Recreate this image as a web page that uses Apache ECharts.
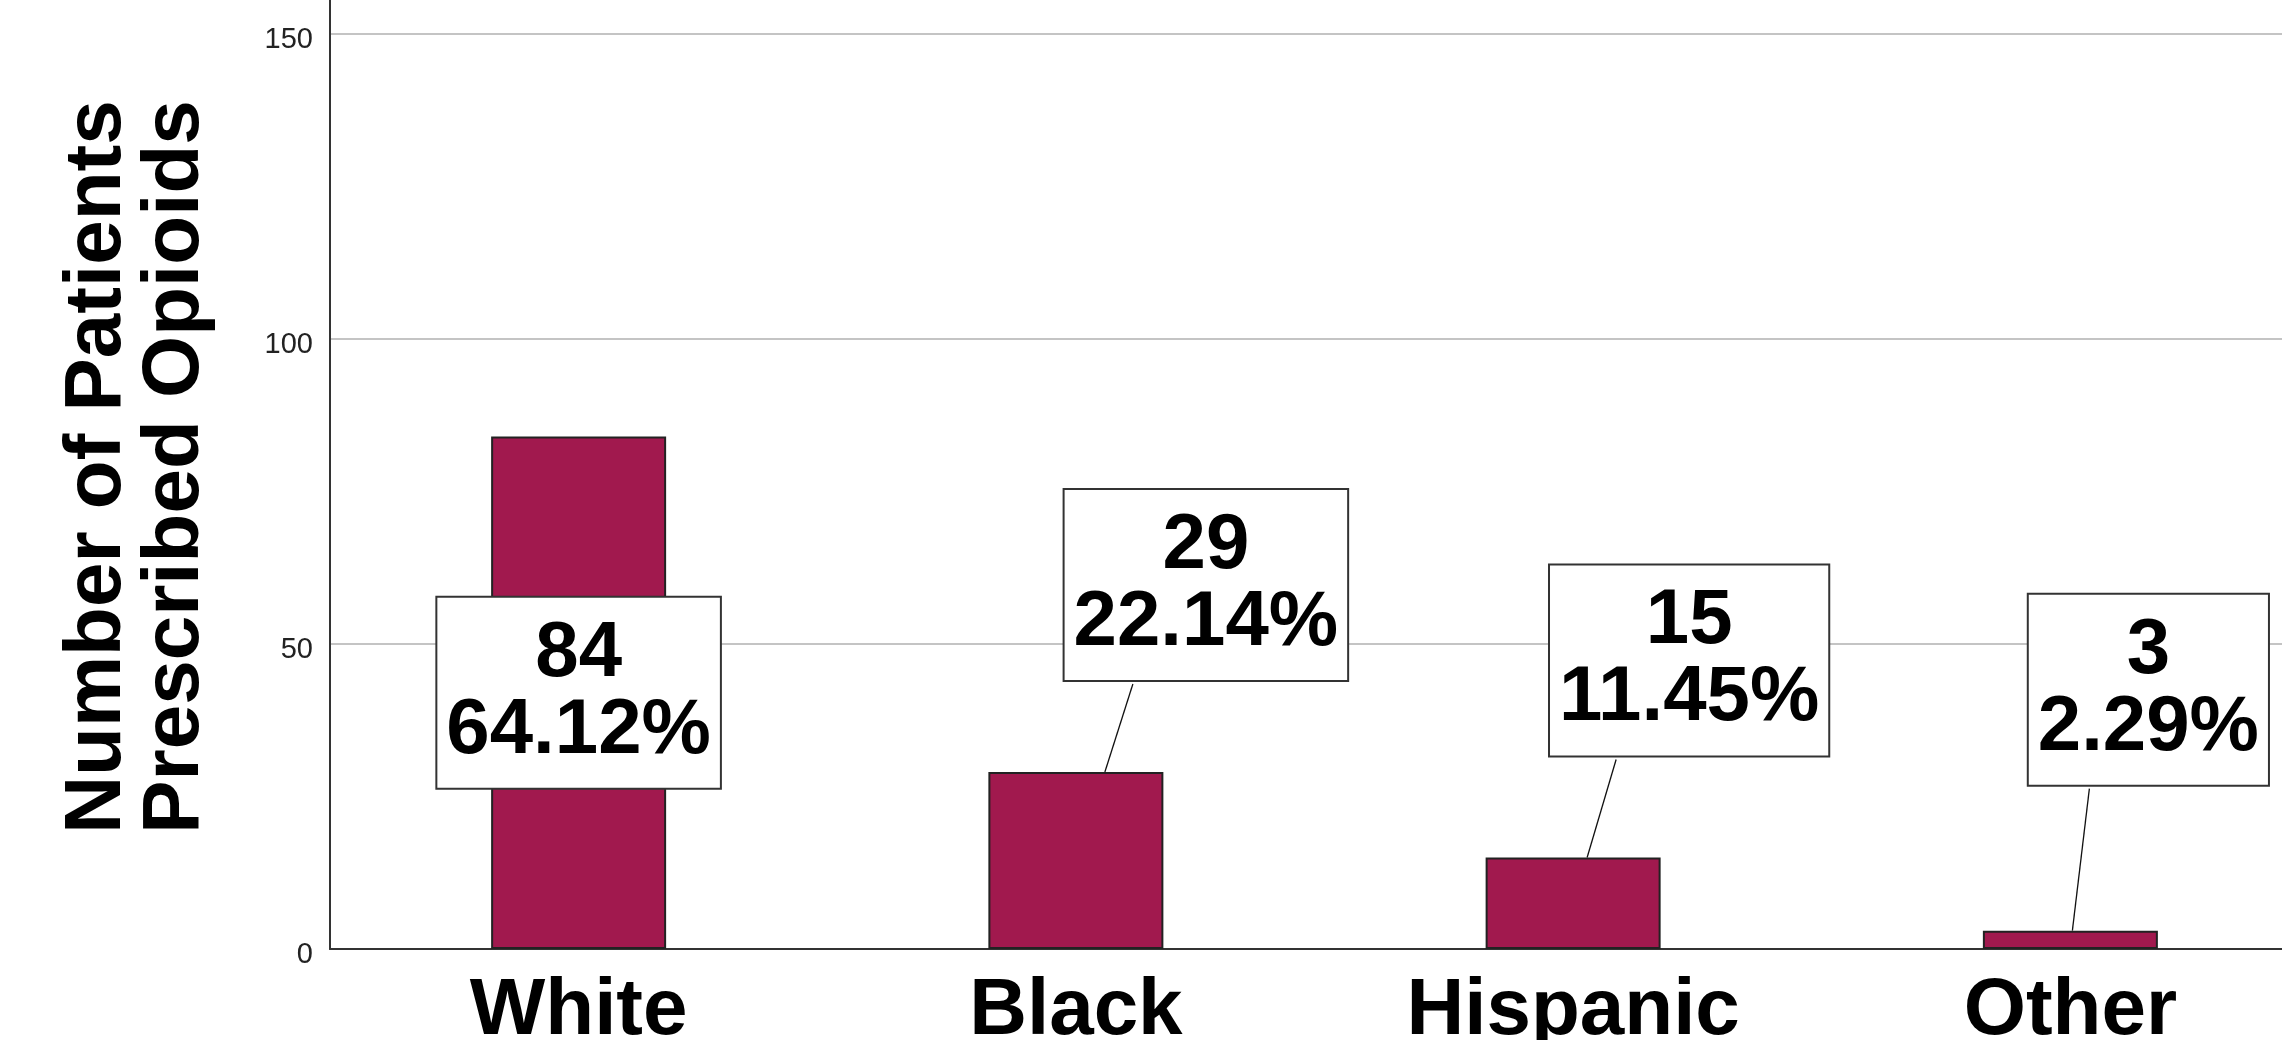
<!DOCTYPE html>
<html>
<head>
<meta charset="utf-8">
<script src="https://cdn.jsdelivr.net/npm/echarts@6/dist/echarts.min.js"></script>
<style>
  html, body { margin: 0; padding: 0; background: #fff; }
  #chart { width: 2282px; height: 1040px; }
</style>
</head>
<body>
<div id="chart"></div>
<script>
// ---- data ----
const categories = ['White', 'Black', 'Hispanic', 'Other'];
const counts = [84, 29, 15, 3];
const percents = ['64.12%', '22.14%', '11.45%', '2.29%'];
const yAxisTitle = 'Number of Patients\nPrescribed Opioids';

// ---- label / leader-line placement (layout only, pixels) ----
const labelDx = [0, 130, 116, 78];       // label centre from bar centre
const labelDy = [0, -187, -197, -241];   // label centre from bar top
const leadStartDx = [0, 29, 14, 2];      // leader start on bar top, from bar centre
const leadEndDx = [0, -73, -73, -59];    // leader end, from label centre
const leadEndDy = [0, -88, -98, -142];   // leader end, from bar top

const FONT = "'Liberation Sans', Arial, sans-serif";

const chart = echarts.init(document.getElementById('chart'), null, { renderer: 'canvas' });

chart.setOption({
  animation: false,
  backgroundColor: '#ffffff',
  grid: { left: 330, right: -37, top: -15, bottom: 91, containLabel: false, outerBoundsMode: 'none' },
  xAxis: {
    type: 'category',
    data: categories,
    axisTick: { show: false },
    axisLine: { show: true, lineStyle: { color: '#333333', width: 2 } },
    axisLabel: {
      color: '#000000', fontFamily: FONT, fontWeight: 'bold', fontSize: 80, margin: 23
    },
    splitLine: { show: false }
  },
  yAxis: {
    type: 'value',
    min: 0, max: 158, interval: 50,
    name: yAxisTitle,
    nameLocation: 'middle',
    nameGap: 115,
    nameTextStyle: {
      color: '#000000', fontFamily: FONT, fontWeight: 'bold', fontSize: 80, lineHeight: 78, align: 'center'
    },
    axisLine: { show: true, lineStyle: { color: '#333333', width: 2 } },
    axisTick: { show: false },
    axisLabel: {
      color: '#222222', fontFamily: FONT, fontSize: 29, margin: 17,
      showMaxLabel: false, verticalAlign: 'top', lineHeight: 12
    },
    splitLine: { show: true, lineStyle: { color: '#c4c4c4', width: 2 } }
  },
  series: [{
    type: 'bar',
    data: counts,
    barWidth: 175,
    itemStyle: { color: '#a1194e', borderColor: '#222222', borderWidth: 2 },
    label: {
      show: true,
      position: 'inside',
      formatter: (p) => counts[p.dataIndex] + '\n' + percents[p.dataIndex],
      color: '#000000',
      fontFamily: FONT,
      fontWeight: 'bold',
      fontSize: 78,
      lineHeight: 77,
      align: 'center',
      verticalAlign: 'middle',
      backgroundColor: '#ffffff',
      borderColor: '#333333',
      borderWidth: 2,
      padding: [23, 9, 13, 9]
    },
    labelLayout: function (params) {
      const i = params.dataIndex;
      if (i === 0) return {};
      const r = params.rect;
      const top = Math.min(r.y, r.y + r.height);
      const cx = r.x + r.width / 2;
      return { x: cx + labelDx[i], y: top + labelDy[i] };
    }
  }, {
    type: 'custom',
    silent: true,
    z: 3,
    data: counts.map((v, i) => [i, v]),
    encode: { x: 0, y: 1 },
    renderItem: function (params, api) {
      const i = params.dataIndex;
      if (i === 0) return null;
      const pt = api.coord([api.value(0), api.value(1)]);
      const cx = pt[0], top = pt[1];
      return {
        type: 'line',
        shape: {
          x1: cx + leadStartDx[i], y1: top,
          x2: cx + labelDx[i] + leadEndDx[i], y2: top + leadEndDy[i]
        },
        style: { stroke: '#111111', lineWidth: 1.3 }
      };
    }
  }]
});
</script>
</body>
</html>
